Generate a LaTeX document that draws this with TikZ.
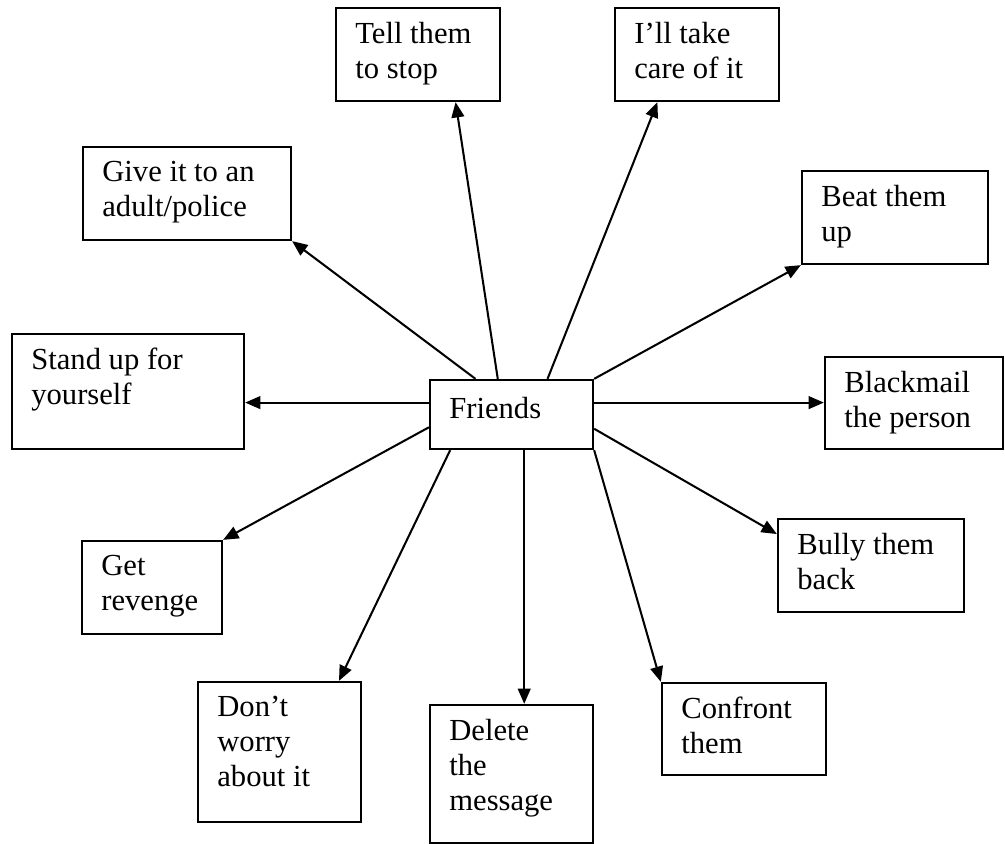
\documentclass[tikz,border=0pt]{standalone}
\usepackage{fontspec}
\setmainfont{Liberation Serif}
\usetikzlibrary{arrows.meta,calc,fit}

\begin{document}
\begin{tikzpicture}[x=0.392pt,y=-0.392pt,
  box/.style={draw, line width=0.9pt, inner sep=0pt, rectangle},
  caption/.style={anchor=north west, inner sep=0pt, align=left,
    font=\fontsize{12pt}{13.7pt}\selectfont, execute at begin node=\strut},
  link/.style={line width=0.8pt, -{Triangle[length=6pt,width=5pt]}}]

\useasboundingbox (0,0) rectangle (1005,844);

% boxes, given by their corners
\node[box, fit={(430,380) (593,449)}] (friends) {};
\node[box, fit={(336,8) (500,101)}] (tell) {};
\node[box, fit={(615,8) (779,101)}] (take) {};
\node[box, fit={(83,147) (291,240)}] (give) {};
\node[box, fit={(802,171) (988,264)}] (beat) {};
\node[box, fit={(12,334) (244,449)}] (stand) {};
\node[box, fit={(825,357) (1003,449)}] (black) {};
\node[box, fit={(82,541) (222,634)}] (revenge) {};
\node[box, fit={(778,519) (964,612)}] (bully) {};
\node[box, fit={(198,682) (361,822)}] (dont) {};
\node[box, fit={(430,705) (593,843)}] (delete) {};
\node[box, fit={(662,683) (826,775)}] (confront) {};

% texts, set from the top left corner of each box
\node[caption] (friendst) at ($(friends.north west)+(20,14.5)$) {Friends};
\node[caption] (tellt) at ($(tell.north west)+(20,14.5)$) {Tell them\\to stop};
\node[caption] (taket) at ($(take.north west)+(20,14.5)$) {I’ll take\\care of it};
\node[caption] (givet) at ($(give.north west)+(20,14.5)$) {Give it to an\\adult/police};
\node[caption] (beatt) at ($(beat.north west)+(20,14.5)$) {Beat them\\up};
\node[caption] (standt) at ($(stand.north west)+(20,14.5)$) {Stand up for\\yourself};
\node[caption] (blackt) at ($(black.north west)+(20,14.5)$) {Blackmail\\the person};
\node[caption] (revenget) at ($(revenge.north west)+(20,14.5)$) {Get\\revenge};
\node[caption] (bullyt) at ($(bully.north west)+(20,14.5)$) {Bully them\\back};
\node[caption] (dontt) at ($(dont.north west)+(20,14.5)$) {Don’t\\worry\\about it};
\node[caption] (deletet) at ($(delete.north west)+(20,14.5)$) {Delete\\the\\message};
\node[caption] (confrontt) at ($(confront.north west)+(20,14.5)$) {Confront\\them};

% connectors leaving the central box
\coordinate (fl) at ($(friends.north west)!0.333!(friends.south west)$);
\coordinate (fr) at ($(friends.north east)!0.333!(friends.south east)$);

\draw[link] ($(friends.north west)!0.282!(friends.north east)$) -- (give.south east);
\draw[link] ($(friends.north west)!0.417!(friends.north east)$) -- ($(tell.south west)!0.726!(tell.south east)$);
\draw[link] ($(friends.north west)!0.718!(friends.north east)$) -- ($(take.south west)!0.262!(take.south east)$);
\draw[link] (friends.north east) -- (beat.south west);
\draw[link] (fr) -- (fr -| black.west);
\draw[link] (fl) -- (fl -| stand.east);
\draw[link] ($(friends.north east)!0.70!(friends.south east)$) -- ($(bully.north west)!0.17!(bully.south west)$);
\draw[link] ($(friends.north west)!0.68!(friends.south west)$) -- (revenge.north east);
\draw[link] ($(friends.south west)!0.129!(friends.south east)$) -- ($(dont.north west)!0.86!(dont.north east)$);
\coordinate (fd) at ($(friends.south west)!0.577!(friends.south east)$);
\draw[link] (fd) -- (fd |- delete.north);
\draw[link] (friends.south east) -- (confront.north west);

\end{tikzpicture}
\end{document}
